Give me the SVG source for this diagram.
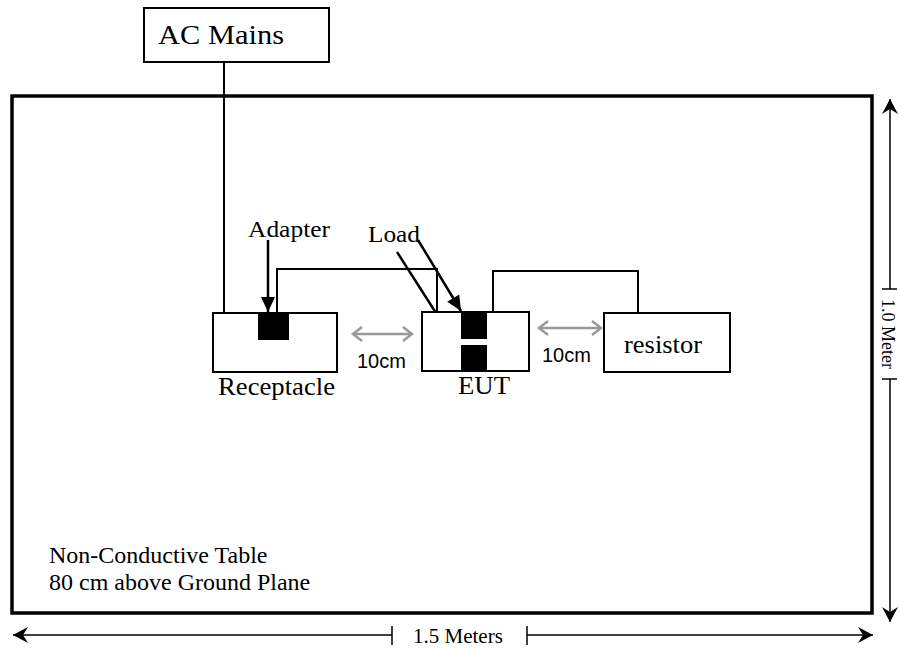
<svg xmlns="http://www.w3.org/2000/svg" width="899" height="651" viewBox="0 0 899 651">
<style>
.serif{font-family:"Liberation Serif","Times New Roman",serif;fill:#000}
.sans{font-family:"Liberation Sans",Arial,sans-serif;fill:#000}
.box{fill:#fff;stroke:#000;stroke-width:2}
.blk{fill:#000;stroke:none}
.wire{fill:none;stroke:#000;stroke-width:2}
.dim{fill:none;stroke:#000;stroke-width:1.5}
.grey{fill:none;stroke:#999;stroke-width:2.5}
.ptr{fill:none;stroke:#000;stroke-width:2.5}
</style>
<defs>
<marker id="barb" markerUnits="userSpaceOnUse" viewBox="-16 -9 17 18" markerWidth="17" markerHeight="18" refX="0" refY="0" orient="auto">
<path d="M0,0 L-15,-8 L-10,0 L-15,8 Z" fill="#000"/>
</marker>
<marker id="tri" markerUnits="userSpaceOnUse" viewBox="-16 -8 17 16" markerWidth="17" markerHeight="16" refX="0" refY="0" orient="auto">
<path d="M0,0 L-15,-7 L-15,7 Z" fill="#000"/>
</marker>
<marker id="chev" markerUnits="userSpaceOnUse" viewBox="-12 -9 14 18" markerWidth="14" markerHeight="18" refX="0" refY="0" orient="auto-start-reverse">
<path d="M-9,-7 L0,0 L-9,7" fill="none" stroke="#999" stroke-width="2.5"/>
</marker>
</defs>
<rect width="899" height="651" fill="#fff"/>

<g id="table">
<rect x="12" y="96" width="860" height="517" fill="none" stroke="#000" stroke-width="3.5"/>
<text class="serif" x="49" y="563" font-size="24">Non-Conductive Table</text>
<text class="serif" x="49" y="590" font-size="24">80 cm above Ground Plane</text>
</g>

<g id="connectors">
<path class="wire" d="M224,62 V313"/>
<path class="wire" d="M277,313 V269 H437 V312"/>
<path class="wire" d="M493,316 V271 H638 V313"/>
<line class="ptr" x1="268" y1="240" x2="268" y2="312" marker-end="url(#tri)"/>
<line class="ptr" x1="418" y1="240" x2="461" y2="311" marker-end="url(#tri)"/>
<line class="ptr" x1="397" y1="252" x2="461" y2="352" marker-end="url(#tri)"/>
<line class="grey" x1="353" y1="334" x2="412" y2="334" marker-start="url(#chev)" marker-end="url(#chev)"/>
<line class="grey" x1="539" y1="328" x2="601" y2="328" marker-start="url(#chev)" marker-end="url(#chev)"/>
</g>

<g id="ac-mains">
<rect class="box" x="144" y="8" width="185" height="54"/>
<text class="serif" x="158" y="44" font-size="28" textLength="126" lengthAdjust="spacingAndGlyphs">AC Mains</text>
</g>

<g id="receptacle">
<rect class="box" x="213" y="313" width="124" height="59"/>
<rect class="blk" x="258" y="313" width="31" height="27"/>
<text class="serif" x="218" y="395" font-size="25" textLength="117" lengthAdjust="spacingAndGlyphs">Receptacle</text>
</g>

<g id="eut">
<rect class="box" x="422" y="312" width="107" height="59"/>
<rect class="blk" x="461" y="312" width="26" height="27"/>
<rect class="blk" x="461" y="345" width="26" height="26"/>
<text class="serif" x="458" y="394" font-size="25" textLength="52" lengthAdjust="spacingAndGlyphs">EUT</text>
</g>

<g id="resistor">
<rect class="box" x="604" y="313" width="126" height="59"/>
<text class="serif" x="624" y="353" font-size="25" textLength="78" lengthAdjust="spacingAndGlyphs">resistor</text>
</g>

<g id="labels">
<text class="serif" x="248" y="237" font-size="24" textLength="82" lengthAdjust="spacingAndGlyphs">Adapter</text>
<text class="serif" x="368" y="242" font-size="24" textLength="52" lengthAdjust="spacingAndGlyphs">Load</text>
<text class="sans" x="357" y="368" font-size="20">10cm</text>
<text class="sans" x="542" y="362" font-size="20">10cm</text>
</g>

<g id="dimensions">
<line class="dim" x1="890" y1="289" x2="890" y2="99" marker-end="url(#barb)"/>
<line class="dim" x1="890" y1="379" x2="890" y2="622" marker-end="url(#barb)"/>
<line class="dim" x1="882" y1="289" x2="897" y2="289"/>
<line class="dim" x1="882" y1="379" x2="897" y2="379"/>
<text class="serif" font-size="18" text-anchor="middle" transform="translate(882,334) rotate(90)">1.0 Meter</text>
<line class="dim" x1="392" y1="635" x2="13" y2="635" marker-end="url(#barb)"/>
<line class="dim" x1="527" y1="635" x2="873" y2="635" marker-end="url(#barb)"/>
<line class="dim" x1="392" y1="626" x2="392" y2="645"/>
<line class="dim" x1="527" y1="626" x2="527" y2="645"/>
<text class="serif" x="413" y="643" font-size="21">1.5 Meters</text>
</g>
</svg>
